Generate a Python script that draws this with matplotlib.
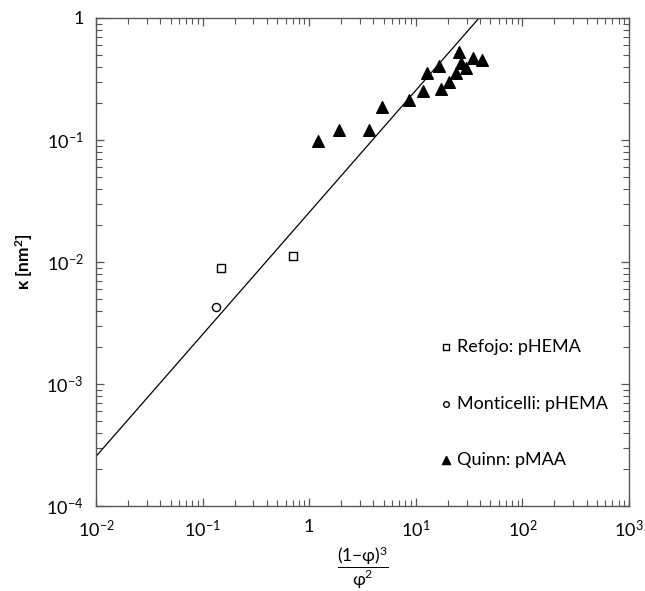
import numpy as np
import matplotlib
matplotlib.use("Agg")
import matplotlib.pyplot as plt
from matplotlib.ticker import LogLocator, FuncFormatter, NullFormatter

plt.rcParams['font.family'] = ['Lato', 'DejaVu Sans']
plt.rcParams['mathtext.fontset'] = 'custom'
plt.rcParams['mathtext.rm'] = 'Lato'
plt.rcParams['mathtext.it'] = 'Lato:italic'
plt.rcParams['mathtext.default'] = 'regular'

# Refojo: pHEMA
refojo_x = [0.150, 0.700]
refojo_k = [0.0090, 0.0112]

# Monticelli: pHEMA
monticelli_x = [0.134]
monticelli_k = [0.0043]

# Quinn: pMAA
quinn_x = [1.20, 1.92, 3.60, 4.80, 8.6, 11.6, 12.8, 16.4, 17.3, 20.5,
           23.6, 25.2, 26.3, 29.7, 34.3, 42.0]
quinn_k = [0.099, 0.120, 0.120, 0.186, 0.213, 0.253, 0.353, 0.405, 0.261, 0.301,
           0.353, 0.530, 0.426, 0.388, 0.468, 0.453]

# fitted line kappa = c * x
fit_c = 0.0255
fit_x = [1e-2, 1e3]

fig = plt.figure(figsize=(6.45, 5.91), dpi=100)
ax = fig.add_axes([96 / 645, 1 - 506 / 591, 533 / 645, 488 / 591])

ax.plot(fit_x, [fit_c * v for v in fit_x], color='black', lw=0.9)
ax.scatter(refojo_x, refojo_k, marker='s', s=36, facecolors='white',
           edgecolors='black', linewidths=1.0, zorder=3, label='Refojo: pHEMA')
ax.scatter(monticelli_x, monticelli_k, marker='o', s=34, facecolors='white',
           edgecolors='black', linewidths=1.0, zorder=3, label='Monticelli: pHEMA')
ax.scatter(quinn_x, quinn_k, marker='^', s=70, color='black', zorder=3,
           label='Quinn: pMAA')

ax.set_xscale('log')
ax.set_yscale('log')
ax.set_xlim(1e-2, 1e3)
ax.set_ylim(1e-4, 1)


def fmt(v, pos):
    e = int(round(np.log10(v)))
    if e == 0:
        return '1'
    return r'$10^{%d}$' % e


for axis in (ax.xaxis, ax.yaxis):
    axis.set_major_locator(LogLocator(base=10, numticks=10))
    axis.set_minor_locator(LogLocator(base=10, subs=np.arange(2, 10), numticks=10))
    axis.set_major_formatter(FuncFormatter(fmt))
    axis.set_minor_formatter(NullFormatter())

ax.tick_params(which='both', direction='in', top=True, right=True,
               labelsize=13, color='#555555')
ax.tick_params(which='major', length=6, width=0.9, pad=9)
ax.tick_params(which='minor', length=4, width=0.8)
for s in ax.spines.values():
    s.set_color('#555555')
    s.set_linewidth(1.0)

ax.set_ylabel(r'κ [nm$^2$]', fontsize=12.5, fontweight='bold', labelpad=8)
ax.set_xlabel(r'$\dfrac{(1{-}\varphi)^3}{\varphi^2}$', fontsize=12.5, labelpad=4)

leg = ax.legend(loc='center left', bbox_to_anchor=(0.61, 0.21), frameon=False,
                fontsize=13, labelspacing=2.25, handletextpad=0.1,
                handlelength=1.0, markerscale=0.7)

fig.savefig('out.png', dpi=100)
